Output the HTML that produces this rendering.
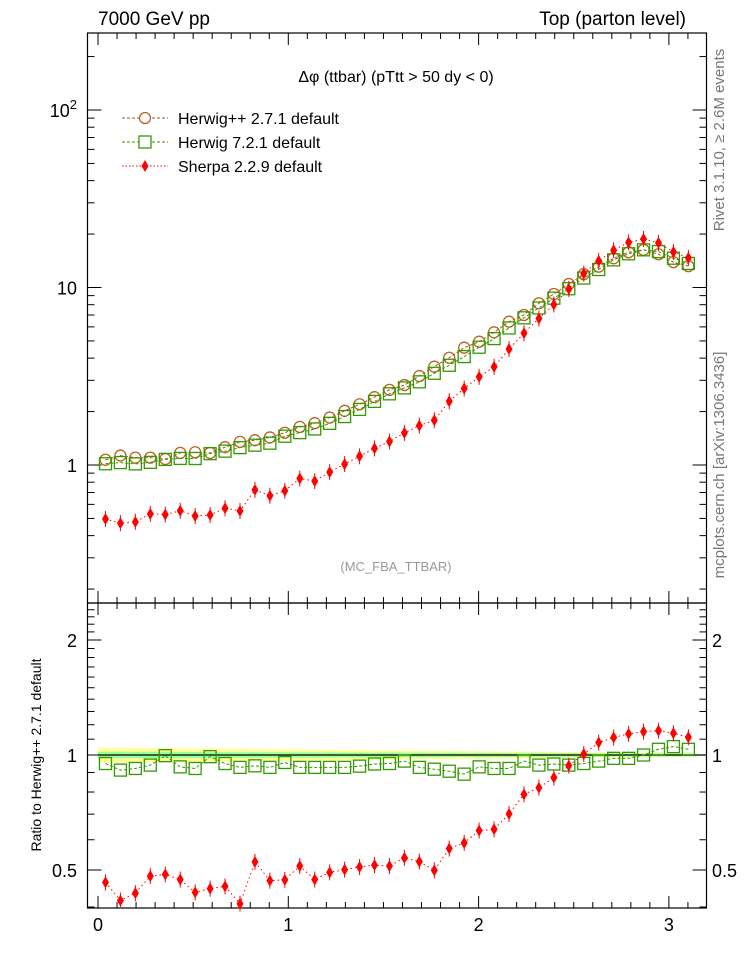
<!DOCTYPE html>
<html><head><meta charset="utf-8"><style>
body{margin:0;background:#fff;}
svg{display:block;font-family:"Liberation Sans",sans-serif;}
</style></head><body>
<svg id="c" width="746" height="972" viewBox="0 0 746 972"></svg>
<script>
const nBins = 40;
const xMax = Math.PI;
const hppValues = [1.07,1.13,1.10,1.10,1.08,1.17,1.18,1.17,1.26,1.35,1.38,1.43,1.52,1.64,1.72,1.85,2.02,2.20,2.41,2.65,2.82,3.17,3.58,4.02,4.58,4.95,5.59,6.42,7.0,8.15,9.19,10.46,11.9,13.1,14.6,15.8,16.3,15.4,13.9,13.2];
const h7Ratio = [0.95,0.913,0.922,0.941,0.996,0.931,0.922,0.99,0.95,0.928,0.937,0.928,0.956,0.928,0.928,0.928,0.928,0.935,0.947,0.95,0.964,0.928,0.918,0.907,0.891,0.931,0.922,0.922,0.964,0.941,0.947,0.941,0.95,0.964,0.98,0.98,1.0,1.035,1.052,1.035];
const sherpaRatio = [0.464,0.416,0.435,0.482,0.487,0.472,0.437,0.447,0.453,0.408,0.525,0.469,0.471,0.512,0.472,0.493,0.501,0.509,0.515,0.512,0.538,0.526,0.499,0.569,0.589,0.634,0.639,0.701,0.789,0.821,0.873,0.938,1.006,1.078,1.111,1.136,1.151,1.158,1.14,1.113];
const xTicks = [0,1,2,3];
const ratioTickValues = [0.5,1,2];

const svg = document.getElementById('c');
const NS = 'http://www.w3.org/2000/svg';
function mk(tag, attrs, parent){const e=document.createElementNS(NS,tag);for(const k in attrs)e.setAttribute(k,attrs[k]);(parent||svg).appendChild(e);return e;}

const L=87.5, R=706.5, mTop=33, mBot=603, rTop=603, rBot=908;
const xs = v => 98 + v*190.3;
const ym = v => 465 - 177.5*Math.log10(v);
const yr = v => 755 - 382*Math.log10(v);
const bw = xMax/nBins;
const centers = hppValues.map((_,i)=>(i+0.5)*bw);
const h7Values = hppValues.map((v,i)=>v*h7Ratio[i]);
const sherpaValues = hppValues.map((v,i)=>v*sherpaRatio[i]);

let f=mk('rect',{x:L,y:mTop,width:R-L,height:mBot-mTop,fill:'none',stroke:'#000','stroke-width':1.2});

f=mk('rect',{x:L,y:rTop,width:R-L,height:rBot-rTop,fill:'none',stroke:'#000','stroke-width':1.2});


for(let t=0;t<=3.2001;t+=0.1){
  const x=xs(t); if(x>R) break;
  const major=Math.abs(t-Math.round(t))<1e-6; const len=major?12:6;
  for(const [y0,d] of [[mTop,1],[mBot,-1],[rTop,1],[rBot,-1]]){
    mk('line',{x1:x,x2:x,y1:y0,y2:y0+d*len,stroke:'#000','stroke-width':1});
  }
}
xTicks.forEach(t=>{const e=mk('text',{x:xs(t),y:931,'font-size':18,'text-anchor':'middle'});e.textContent=t;
});

for(let d=-1;d<=2;d++){for(let m=1;m<=9;m++){const v=m*Math.pow(10,d);const y=ym(v);if(y<mTop||y>mBot)continue;
 const len=m===1?14:7; mk('line',{x1:L,x2:L+len,y1:y,y2:y,stroke:'#000'}); mk('line',{x1:R,x2:R-len,y1:y,y2:y,stroke:'#000'});}}
[[1,"1"],[10,"10"]].forEach(([v,s])=>{const e=mk('text',{x:77,y:ym(v)+7,'font-size':18,'text-anchor':'end'});e.textContent=s;
});
{const e=mk('text',{x:77,y:ym(100)+7,'font-size':18,'text-anchor':'end'});e.innerHTML='10<tspan dy="-8" font-size="13">2</tspan>';
}

for(let v=0.4;v<=2.5001;v+=0.1){const y=yr(v);if(y<rTop||y>rBot)continue;const maj=[0.5,1,2].some(q=>Math.abs(q-v)<1e-6);
 const len=maj?14:7; mk('line',{x1:L,x2:L+len,y1:y,y2:y,stroke:'#000'}); mk('line',{x1:R,x2:R-len,y1:y,y2:y,stroke:'#000'});}
ratioTickValues.forEach(v=>{let e=mk('text',{x:77,y:yr(v)+7,'font-size':18,'text-anchor':'end'});e.textContent=v;

e=mk('text',{x:712,y:yr(v)+7,'font-size':18});e.textContent=v;
});

centers.forEach((c,i)=>{const x0=xs(i*bw),x1=xs((i+1)*bw);const hw=0.045-0.035*i/nBins;const hg=0.02-0.012*i/nBins;
 let b=mk('rect',{x:x0,y:yr(1+hw),width:x1-x0+0.5,height:yr(1-hw)-yr(1+hw),fill:'#ffff99'});
 
 b=mk('rect',{x:x0,y:yr(1+hg),width:x1-x0+0.5,height:yr(1-hg)-yr(1+hg),fill:'#99ff99'});
 });
mk('line',{x1:xs(0),x2:R,y1:yr(1),y2:yr(1),stroke:'#000','stroke-width':1.2});

function series(vals, yf, kind, name){
  const pts=centers.map((c,i)=>xs(c)+','+yf(vals[i])).join(' ');
  const col=kind==='circle'?'#a0522d':kind==='square'?'#339900':'#ff0000';
  const pl=mk('polyline',{points:pts,fill:'none',stroke:col,'stroke-width':1,'stroke-dasharray':kind==='diamond'?'1.5,3':'3,2'});
  
  centers.forEach((c,i)=>{const x=xs(c),y=yf(vals[i]);let m;
    if(kind==='circle') m=mk('circle',{cx:x,cy:y,r:5.5,fill:'none',stroke:'#b5651d','stroke-width':1.3});
    else if(kind==='square') m=mk('rect',{x:x-6,y:y-6,width:12,height:12,fill:'none',stroke:'#339900','stroke-width':1.3});
    else {mk('line',{x1:x,x2:x,y1:y-8,y2:y+8,stroke:'#ff0000','stroke-width':1});
      m=mk('polygon',{points:`${x},${y-6} ${x+3.5},${y} ${x},${y+6} ${x-3.5},${y}`,fill:'#ff0000'});}
    });
}
series(hppValues, ym, 'circle', 'herwigpp');
series(h7Values, ym, 'square', 'herwig7');
series(sherpaValues, ym, 'diamond', 'sherpa');
series(h7Ratio, yr, 'square', 'herwig7-ratio');
series(sherpaRatio, yr, 'diamond', 'sherpa-ratio');

function txt(s,attrs,name){const e=mk('text',attrs);e.textContent=s;return e;}
txt('7000 GeV pp',{x:98,y:25,'font-size':19},'energy-label');
txt('Top (parton level)',{x:686,y:25,'font-size':19,'text-anchor':'end'},'process-label');
txt('Δφ (ttbar) (pTtt > 50 dy < 0)',{x:396,y:82,'font-size':16,'text-anchor':'middle'},'plot-title');
txt('(MC_FBA_TTBAR)',{x:396,y:571,'font-size':13,'text-anchor':'middle',fill:'#999'},'analysis-label');
txt('Rivet 3.1.10, ≥ 2.6M events',{x:0,y:0,'font-size':15,fill:'#777','text-anchor':'middle',transform:'translate(724,140) rotate(-90)'},'rivet-label');
txt('mcplots.cern.ch [arXiv:1306.3436]',{x:0,y:0,'font-size':15,fill:'#777','text-anchor':'middle',transform:'translate(724,465) rotate(-90)'},'mcplots-label');
txt('Ratio to Herwig++ 2.7.1 default',{x:0,y:0,'font-size':14,'text-anchor':'middle',transform:'translate(41,755) rotate(-90)'},'ratio-y-title');

const leg=[['Herwig++ 2.7.1 default','circle','#a0522d'],['Herwig 7.2.1 default','square','#339900'],['Sherpa 2.2.9 default','diamond','#ff0000']];
leg.forEach(([s,k,col],i)=>{const y=118+i*24;
 mk('line',{x1:122,x2:168,y1:y,y2:y,stroke:col,'stroke-dasharray':k==='diamond'?'1.5,2':'3,2'});
 if(k==='circle') mk('circle',{cx:145,cy:y,r:5.5,fill:'#fff',stroke:'#b5651d','stroke-width':1.3});
 else if(k==='square') mk('rect',{x:139,y:y-6,width:12,height:12,fill:'#fff',stroke:'#339900','stroke-width':1.3});
 else mk('polygon',{points:`145,${y-6} 148.5,${y} 145,${y+6} 141.5,${y}`,fill:'#ff0000'});
 txt(s,{x:178,y:y+6,'font-size':16},'legend-entry');});
</script>
</body></html>
